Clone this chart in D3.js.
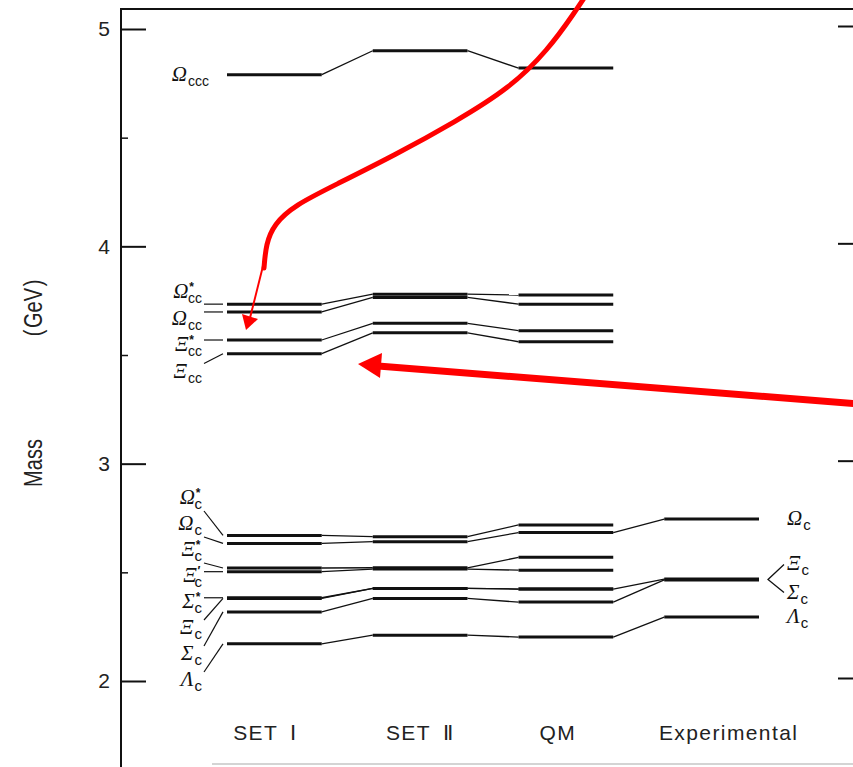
<!DOCTYPE html>
<html>
<head>
<meta charset="utf-8">
<script src="https://cdn.jsdelivr.net/npm/d3@7"></script>
<style>
  body { margin: 0; background: #fff; }
  svg { display: block; }
</style>
</head>
<body>
<svg id="chart" width="853" height="767"></svg>
<script>
// columns
const sets = ["SET I", "SET II", "QM", "Experimental"];
const setLabels = ["SET\u2002\u2160", "SET\u2002\u2161", "QM", "Experimental"];
const setLabelDx = [-9, 0, -8, 17];

// mass axis (GeV)
const yTicks = [2, 3, 4, 5];
const yMinorTicks = [2.5, 3.5, 4.5];

// triply charmed: [symbol, superscript, subscript]
const cccNames = [["\u03A9", "", "ccc"]];
const cccMass = [[4.79, 4.90, 4.82, null]];

// doubly charmed
const ccNames = [
  ["\u03A9", "*", "cc"], ["\u03A9", "", "cc"], ["\u039E", "*", "cc"], ["\u039E", "", "cc"]
];
const ccMass = [
  [3.734, 3.780, 3.776, null],
  [3.698, 3.765, 3.734, null],
  [3.569, 3.646, 3.612, null],
  [3.506, 3.602, 3.561, null]
];

// singly charmed
const cNames = [
  ["\u03A9", "*", "c"], ["\u03A9", "", "c"], ["\u039E", "*", "c"], ["\u039E", "\u2032", "c"],
  ["\u03A3", "*", "c"], ["\u039E", "", "c"], ["\u03A3", "", "c"], ["\u039B", "", "c"]
];
const cMass = [
  [2.670, 2.664, 2.718, null],
  [2.633, 2.641, 2.683, 2.745],
  [2.520, 2.521, 2.569, null],
  [2.503, 2.515, 2.510, null],
  [2.383, 2.426, 2.423, null],
  [2.380, 2.426, 2.423, 2.469],
  [2.318, 2.380, 2.363, 2.465],
  [2.171, 2.211, 2.202, 2.294]
];

// labels next to the experimental column
const expNames = [["\u03A9", "", "c"], ["\u039E", "", "c"], ["\u03A3", "", "c"], ["\u039B", "", "c"]];
const expMass = [2.745, 2.469, 2.465, 2.294];
const expLabelShift = [0, -15, 13, 0];

const svg = d3.select("#chart");

const y = d3.scaleLinear()
  .domain([2, 5])
  .range([681, 29]);

const x = d3.scaleBand()
  .domain(sets)
  .range([227, 759])
  .paddingInner(0.35)
  .paddingOuter(0);

const serif = "'Liberation Serif', 'DejaVu Serif', serif";
const sans = "'Liberation Sans', Arial, sans-serif";

// frame
const frame = svg.append("g")
  .attr("stroke", "#111")
  .attr("fill", "none");
frame.append("line")
  .attr("x1", 121).attr("x2", 121)
  .attr("y1", 9).attr("y2", 767)
  .attr("stroke-width", 2);
frame.append("line")
  .attr("x1", 120).attr("x2", 853)
  .attr("y1", 9).attr("y2", 9)
  .attr("stroke-width", 2);
frame.append("line")
  .attr("x1", 212).attr("x2", 853)
  .attr("y1", 764).attr("y2", 764)
  .attr("stroke", "#aaa")
  .attr("stroke-width", 1.2);

// y axis
const yAxis = svg.append("g")
  .attr("transform", "translate(121,0)")
  .call(d3.axisLeft(y).tickValues(yTicks).tickSize(-25).tickPadding(11).tickFormat(d3.format("d")));
yAxis.select(".domain").remove();
yAxis.selectAll("line").attr("stroke", "#111").attr("stroke-width", 2);
yAxis.selectAll("text")
  .attr("font-family", sans)
  .attr("font-size", 21)
  .attr("fill", "#222");

const yMinor = svg.append("g")
  .attr("transform", "translate(121,0)")
  .call(d3.axisLeft(y).tickValues(yMinorTicks).tickSize(-7).tickFormat(""));
yMinor.select(".domain").remove();
yMinor.selectAll("line").attr("stroke", "#111").attr("stroke-width", 1.5);

const yRight = svg.append("g")
  .attr("transform", "translate(853,-3)")
  .call(d3.axisRight(y).tickValues(yTicks).tickSize(-15).tickFormat(""));
yRight.select(".domain").remove();
yRight.selectAll("line").attr("stroke", "#111").attr("stroke-width", 2);

// y title (narrow, tall lettering)
svg.append("text")
  .attr("transform", "translate(42,463) rotate(-90) scale(0.8,1)")
  .attr("text-anchor", "middle")
  .attr("font-family", sans)
  .attr("font-size", 25)
  .attr("fill", "#222")
  .text("Mass");
svg.append("text")
  .attr("transform", "translate(42,308) rotate(-90) scale(0.8,1)")
  .attr("text-anchor", "middle")
  .attr("font-family", sans)
  .attr("font-size", 25)
  .attr("fill", "#222")
  .text("(\u200AGeV\u200A)");

// x axis (column names)
const xAxis = svg.append("g")
  .attr("transform", "translate(0,700)")
  .call(d3.axisBottom(x).tickSize(0).tickPadding(25).tickFormat((d, i) => setLabels[i]));
xAxis.select(".domain").remove();
xAxis.selectAll("text")
  .attr("dx", (d, i) => setLabelDx[i])
  .attr("font-family", sans)
  .attr("font-size", 21)
  .attr("letter-spacing", 1.4)
  .attr("fill", "#222");

// levels and connectors
function drawLevels(masses) {
  const g = svg.append("g");
  masses.forEach(row => {
    row.forEach((m, i) => {
      if (m == null) return;
      g.append("line")
        .attr("x1", x(sets[i])).attr("x2", x(sets[i]) + x.bandwidth())
        .attr("y1", y(m)).attr("y2", y(m))
        .attr("stroke", "#111")
        .attr("stroke-width", 3);
      const next = row[i + 1];
      if (next != null && i + 1 < sets.length) {
        g.append("line")
          .attr("x1", x(sets[i]) + x.bandwidth()).attr("x2", x(sets[i + 1]))
          .attr("y1", y(m)).attr("y2", y(next))
          .attr("stroke", "#111")
          .attr("stroke-width", 1.3);
      }
    });
  });
}
drawLevels(cccMass);
drawLevels(ccMass);
drawLevels(cMass);

// particle label: symbol with superscript and subscript
function particle(px, py, name, anchor) {
  const t = svg.append("text")
    .attr("x", px).attr("y", py + 6)
    .attr("text-anchor", anchor)
    .attr("fill", "#111");
  t.append("tspan")
    .attr("font-family", serif)
    .attr("font-style", "italic")
    .attr("font-size", 21)
    .text(name[0]);
  const subSize = name[2].length > 1 ? 14 : 15;
  if (name[1]) {
    t.append("tspan")
      .attr("font-family", sans)
      .attr("font-weight", "bold")
      .attr("font-size", 12)
      .attr("dx", 1).attr("dy", -7)
      .text(name[1]);
    t.append("tspan")
      .attr("font-family", sans)
      .attr("font-size", subSize)
      .attr("dx", -6).attr("dy", 12)
      .text(name[2]);
  } else {
    t.append("tspan")
      .attr("font-family", sans)
      .attr("font-size", subSize)
      .attr("dx", 1).attr("dy", 5)
      .text(name[2]);
  }
}

function leader(x1, y1, x2, y2) {
  svg.append("line")
    .attr("x1", x1).attr("y1", y1)
    .attr("x2", x2).attr("y2", y2)
    .attr("stroke", "#111")
    .attr("stroke-width", 1.2);
}

// left labels
particle(209, y(cccMass[0][0]), cccNames[0], "end");

function leftLabels(names, masses, top, step) {
  names.forEach((n, i) => {
    const slot = top + i * step;
    particle(202, slot, n, "end");
    const ly = y(masses[i][0]);
    const sy = slot + Math.max(-8, Math.min(13, ly - slot));
    leader(204, sy, x(sets[0]) - 4, ly);
  });
}
leftLabels(ccNames, ccMass, 292, 26.5);
leftLabels(cNames, cMass, 498, 26);

// right labels (experimental)
expNames.forEach((n, i) => {
  particle(787, y(expMass[i]) + expLabelShift[i], n, "start");
});
const bx = x(sets[3]) + x.bandwidth() + 9;
const bMid = y((expMass[1] + expMass[2]) / 2);
svg.append("path")
  .attr("d", `M${bx + 16},${bMid - 15} L${bx},${bMid} L${bx + 16},${bMid + 13}`)
  .attr("fill", "none")
  .attr("stroke", "#111")
  .attr("stroke-width", 1.3);

// red annotations
const red = "#ff0000";
const curvePts = [[588, -8], [575, 12], [548, 50], [510, 88], [455, 122], [395, 155], [335, 185],
  [295, 205], [274, 224], [266, 244], [264, 268]];
svg.append("path")
  .attr("d", d3.line().curve(d3.curveBasis)(curvePts))
  .attr("fill", "none")
  .attr("stroke", red)
  .attr("stroke-width", 5)
  .attr("stroke-linecap", "round");
svg.append("line")
  .attr("x1", 264).attr("y1", 262)
  .attr("x2", 250).attr("y2", 318)
  .attr("stroke", red)
  .attr("stroke-width", 2);
svg.append("path")
  .attr("d", "M246,330 L242,314 L258,319 Z")
  .attr("fill", red);

svg.append("line")
  .attr("x1", 860).attr("y1", 404)
  .attr("x2", 378).attr("y2", 366)
  .attr("stroke", red)
  .attr("stroke-width", 7);
svg.append("path")
  .attr("d", "M358,364 L382,353 L380,378 Z")
  .attr("fill", red);
</script>
</body>
</html>
